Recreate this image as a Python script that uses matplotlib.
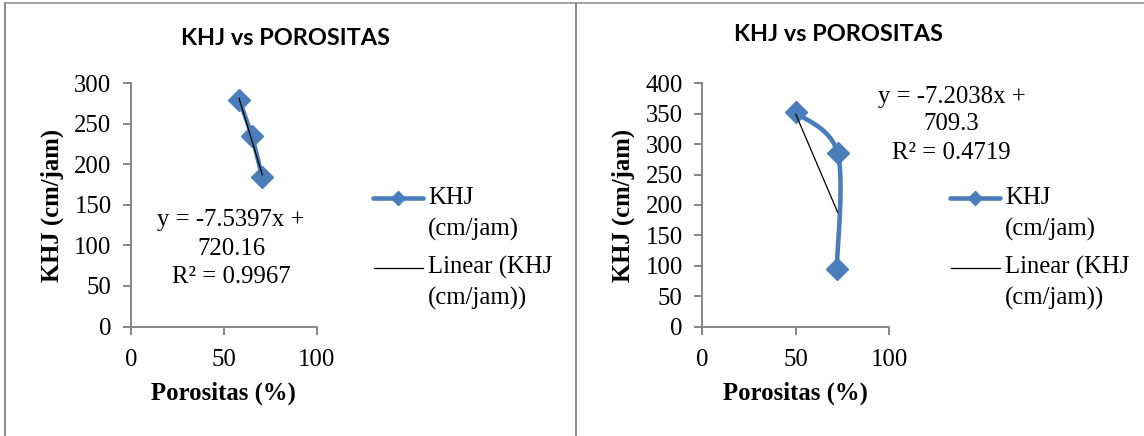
import matplotlib
matplotlib.use("Agg")
import matplotlib.pyplot as plt
import numpy as np
from matplotlib.lines import Line2D

# chart 1
porositas_1 = [58.2, 65.0, 70.7]
khj_1 = [280, 235, 184]
slope_1, intercept_1, r2_1 = -7.5397, 720.16, 0.9967
ymax_1 = 300

# chart 2
porositas_2 = [50.0, 72.4, 71.9]
khj_2 = [352, 285, 94]
slope_2, intercept_2, r2_2 = -7.2038, 709.3, 0.4719
ymax_2 = 400

title = "KHJ vs POROSITAS"
xlabel = "Porositas (%)"
ylabel = "KHJ (cm/jam)"
legend_series = ["KHJ", "(cm/jam)"]
legend_trend = ["Linear (KHJ", "(cm/jam))"]

W, H = 1144, 436
BLUE = "#4a7ebb"
GREY = "#868686"
SERIF = "Liberation Serif"
FS = 17.8


def fx(px):
    return px / W


def fy(py):
    return 1 - py / H


def excel_smooth(ax, xs, ys, n=60):
    # bezier through the points in screen space, like excel "smoothed line"
    pts = ax.transData.transform(np.column_stack([xs, ys]))
    ext = np.vstack([pts[0], pts, pts[-1]])
    t = np.linspace(0, 1, n)[:, None]
    parts = []
    for i in range(len(pts) - 1):
        p0, p1 = pts[i], pts[i + 1]
        c1 = p0 + (ext[i + 2] - ext[i]) / 6
        c2 = p1 - (ext[i + 3] - ext[i + 1]) / 6
        seg = (1 - t) ** 3 * p0 + 3 * (1 - t) ** 2 * t * c1 + 3 * (1 - t) * t ** 2 * c2 + t ** 3 * p1
        parts.append(seg if i == 0 else seg[1:])
    curve = ax.transData.inverted().transform(np.vstack(parts))
    return curve[:, 0], curve[:, 1]


def text_lines(fig, cx, ys, lines, ha="center"):
    for y, line in zip(ys, lines):
        fig.text(fx(cx), fy(y), line, ha=ha, va="center", family=SERIF, fontsize=FS)


def draw_chart(fig, x0, x1, xs, ys, slope, intercept, r2, ymax, title_xy, eq_cx, eq_ys, leg_x0):
    top, bottom = 83.3, 326.5
    ax = fig.add_axes([fx(x0), fy(bottom), (x1 - x0) / W, (bottom - top) / H])
    ax.set_xlim(0, 100)
    ax.set_ylim(0, ymax)
    ax.set_xticks([0, 50, 100])
    ax.set_yticks(np.arange(0, ymax + 1, 50))
    for side in ["top", "right"]:
        ax.spines[side].set_visible(False)
    for side in ["left", "bottom"]:
        ax.spines[side].set_color(GREY)
        ax.spines[side].set_linewidth(1.4)
    ax.tick_params(axis="both", direction="out", length=5.5, width=1.4, color=GREY,
                   labelsize=FS)
    ax.tick_params(axis="y", pad=8.5)
    ax.tick_params(axis="x", pad=11)
    for lab in ax.get_xticklabels() + ax.get_yticklabels():
        lab.set_family(SERIF)
    ax.patch.set_alpha(0)

    sx, sy = excel_smooth(ax, xs, ys)
    ax.plot(sx, sy, color=BLUE, lw=3.3, solid_capstyle="round", clip_on=False)
    ax.plot(xs, ys, ls="none", marker="D", ms=11, color=BLUE, clip_on=False)
    tx = np.array([min(xs), max(xs)])
    ax.plot(tx, slope * tx + intercept, color="black", lw=0.9, clip_on=False)

    fig.text(fx(title_xy[0]), fy(title_xy[1]), title, ha="center", va="center",
             family="Lato", fontweight="bold", fontsize=16.9)
    fig.text(fx(x0 - 79), fy(205), ylabel, rotation=90, ha="center", va="center",
             family=SERIF, fontweight="bold", fontsize=FS)
    fig.text(fx((x0 + x1) / 2), fy(393), xlabel, ha="center", va="center",
             family=SERIF, fontweight="bold", fontsize=FS)

    eq = [f"y = {slope}x +", f"{intercept}", f"R² = {r2}"]
    text_lines(fig, eq_cx, eq_ys, eq)

    # legend
    fig.add_artist(Line2D([fx(leg_x0), fx(leg_x0 + 50)], [fy(198), fy(198)], color=BLUE, lw=3.3,
                          solid_capstyle="round"))
    fig.add_artist(Line2D([fx(leg_x0 + 25)], [fy(198)], ls="none", marker="D", ms=7, color=BLUE))
    text_lines(fig, leg_x0 + 55, [198, 229], legend_series, ha="left")
    fig.add_artist(Line2D([fx(leg_x0 + 1), fx(leg_x0 + 50)], [fy(267.7), fy(267.7)], color="black", lw=0.9))
    text_lines(fig, leg_x0 + 55, [267.7, 298.3], legend_trend, ha="left")
    return ax


fig = plt.figure(figsize=(W / 100, H / 100), dpi=100)

# frame lines
fig.add_artist(Line2D([fx(4.7), 1], [fy(3.5), fy(3.5)], color="#8c8c8c", lw=1.1))
fig.add_artist(Line2D([fx(4.7), fx(4.7)], [fy(3.5), 0], color="#8c8c8c", lw=1.4))
fig.add_artist(Line2D([fx(575.7), fx(575.7)], [fy(3.5), 0], color="#8c8c8c", lw=1.4))

draw_chart(fig, 131, 316.7, porositas_1, khj_1, slope_1, intercept_1, r2_1, ymax_1,
           (285.5, 38.3), 231, [220, 248.5, 277], 373)
draw_chart(fig, 702.3, 889.3, porositas_2, khj_2, slope_2, intercept_2, r2_2, ymax_2,
           (839, 34.3), 951.5, [96.7, 123.5, 152.7], 950)

fig.savefig("out.png", dpi=100)
